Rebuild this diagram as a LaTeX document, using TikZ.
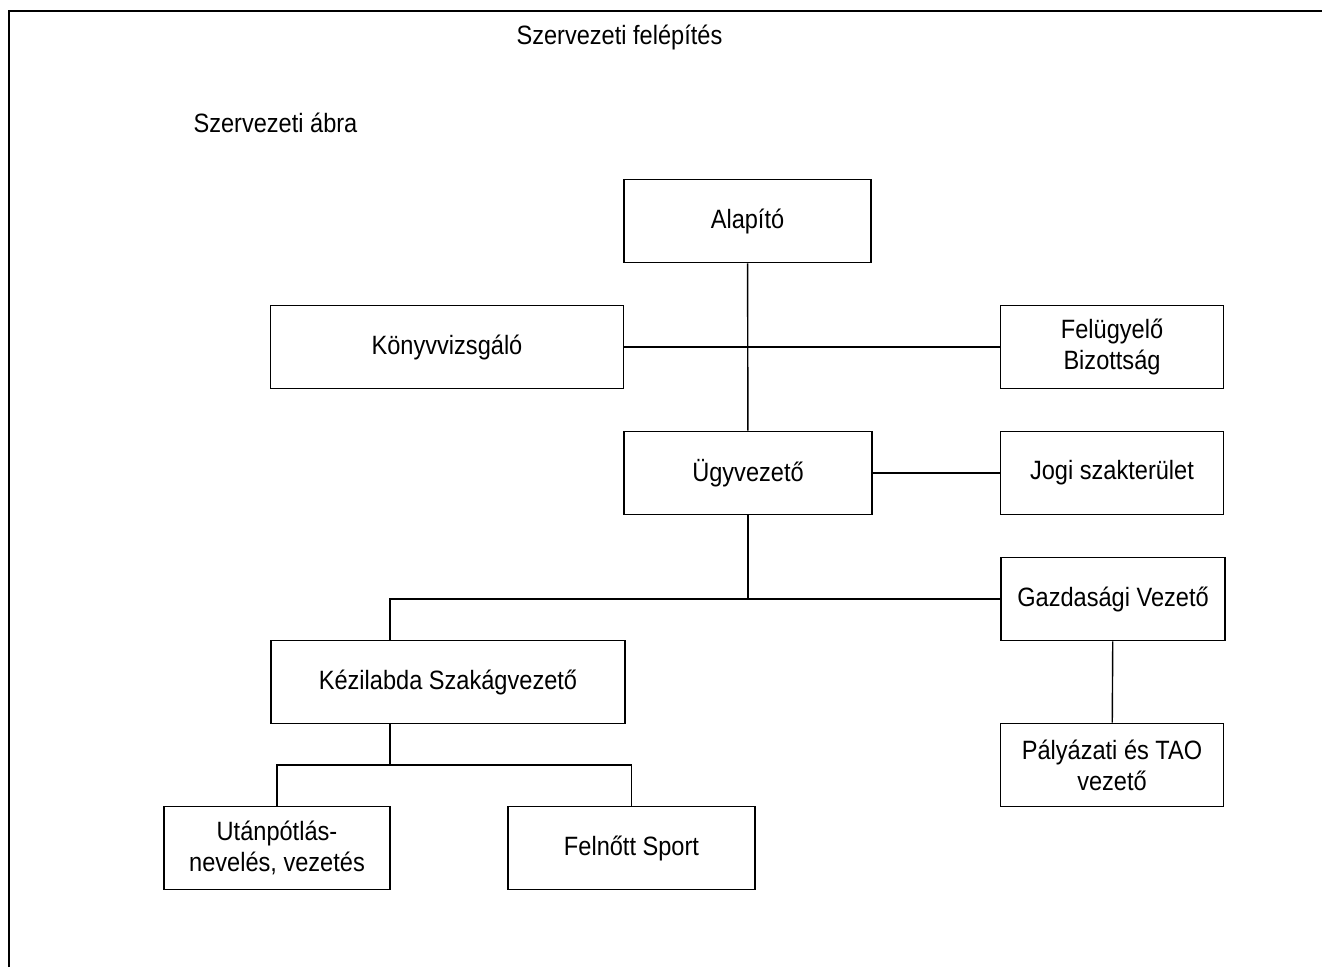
\documentclass[tikz,border=0pt]{standalone}
\usepackage{fontspec}
\setmainfont[FakeStretch=0.89]{Liberation Sans}

\begin{document}
\begin{tikzpicture}[x=1pt,y=-1pt,font=\fontsize{26.5}{31}\selectfont,
  box/.style={draw,rectangle,line width=1.6pt,align=center,inner sep=0pt,minimum height=83pt},
  every edge/.style={draw,line width=1.4pt}]
  \useasboundingbox (0,0) rectangle (1322,967);
  % frame
  \draw[line width=2.8pt] (9,967) -- (9,11) -- (1322,11);
  \node[anchor=west] (title) at (513,37) {Szervezeti felépítés};
  \node[anchor=west] (subtitle) at (190,123) {Szervezeti ábra};
  % boxes
  \node[box,minimum width=247pt] (alapito) at (747.5,221) {Alapító};
  \node[box,minimum width=353pt] (konyv) at (447,347) {Könyvvizsgáló};
  \node[box,minimum width=223pt] (felugy) at (1112,347) {Felügyelő\\Bizottság};
  \node[box,minimum width=248pt] (ugyvez) at (748,473) {Ügyvezető};
  \node[box,minimum width=223pt] (jogi) at (1112,473) {Jogi szakterület};
  \node[box,minimum width=224pt] (gazd) at (1113,599) {Gazdasági Vezető};
  \node[box,minimum width=354pt] (kezi) at (448,682) {Kézilabda Szakágvezető};
  \node[box,minimum width=223pt] (palyaz) at (1112,765) {Pályázati és TAO\\vezető};
  \node[box,minimum width=226pt] (utanp) at (277,848) {Utánpótlás-\\nevelés, vezetés};
  \node[box,minimum width=247pt] (felnott) at (631.5,848) {Felnőtt Sport};
  % connectors
  \coordinate (kfork) at (390,599);
  \coordinate (sfork) at (390,765);
  \path (alapito) edge (ugyvez);
  \path (konyv) edge (felugy);
  \path (ugyvez) edge (jogi);
  \path (gazd) edge (palyaz);
  \draw[line width=1.4pt] (ugyvez.south) -- (ugyvez.south |- gazd.west);
  \draw[line width=1.4pt] (gazd.west) -- (kfork) -- (kfork |- kezi.north);
  \draw[line width=1.4pt] (kfork |- kezi.south) -- (sfork);
  \draw[line width=1.4pt] (utanp.north) |- (sfork) -| (felnott.north);
\end{tikzpicture}
\end{document}
